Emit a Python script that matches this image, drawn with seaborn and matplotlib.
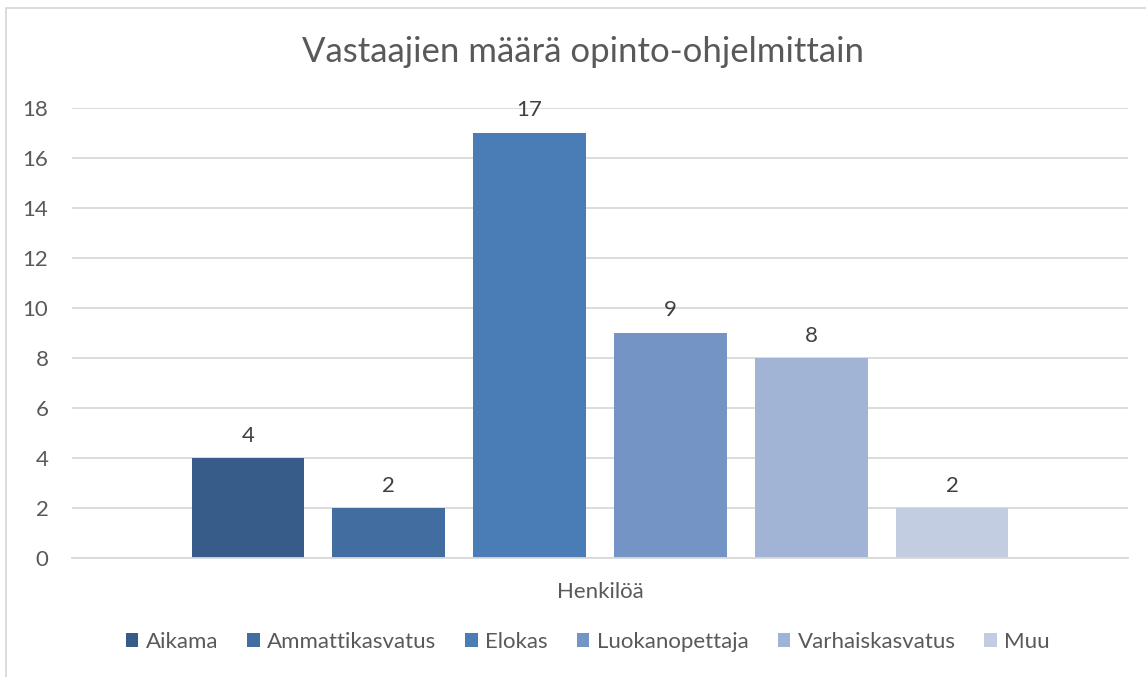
import matplotlib
matplotlib.use("Agg")
import matplotlib.pyplot as plt
import seaborn as sns
import pandas as pd
from matplotlib.patches import Rectangle

categories = ["Aikama", "Ammattikasvatus", "Elokas", "Luokanopettaja", "Varhaiskasvatus", "Muu"]
values = [4, 2, 17, 9, 8, 2]
group = "Henkilöä"
colors = ["#375C8A", "#416DA0", "#4A7CB6", "#7394C5", "#A2B4D5", "#C2CDE2"]
title = "Vastaajien määrä opinto-ohjelmittain"

sns.set_theme(style="white")
plt.rcParams["font.family"] = ["Lato", "DejaVu Sans"]

df = pd.DataFrame({"group": [group] * len(categories), "series": categories, "value": values})

W, H = 1146, 677
fig = plt.figure(figsize=(W / 100, H / 100), dpi=100)
ax = fig.add_axes([72 / W, 1 - 558 / H, (1128 - 72) / W, (558 - 108) / H])

sns.barplot(data=df, x="group", y="value", hue="series", hue_order=categories,
            palette=colors, width=0.8, gap=0.2, ax=ax, legend=True, saturation=1,
            linewidth=0, edgecolor="none")

txt = "#595959"
ax.set_ylim(0, 18)
ax.set_xlim(-0.5, 0.5)
ax.set_yticks(range(0, 19, 2))
ax.yaxis.grid(True, color="#D9D9D9", linewidth=1.3)
ax.set_axisbelow(True)
for s in ["left", "right", "top"]:
    ax.spines[s].set_visible(False)
ax.spines["bottom"].set_color("#D9D9D9")
ax.spines["bottom"].set_linewidth(1.3)
ax.tick_params(axis="y", length=0, pad=17, labelsize=16, labelcolor=txt)
ax.tick_params(axis="x", length=0, pad=17, labelsize=16, labelcolor=txt)
ax.set_xlabel("")
ax.set_ylabel("")

for cont in ax.containers:
    ax.bar_label(cont, padding=9, fontsize=16, color="#404040")

fig.text(583 / W, 1 - 52 / H, title, ha="center", va="center", fontsize=25, color=txt)

handles, labels = ax.get_legend_handles_labels()
ax.legend_.remove()
fig.legend(handles, labels, loc="center", bbox_to_anchor=(588 / W, 1 - 642 / H), ncol=6,
           frameon=False, fontsize=16, handlelength=0.55, handleheight=0.55,
           handletextpad=0.35, columnspacing=1.3, labelcolor=txt)

fig.patches.append(Rectangle((6 / W, -0.05), 1.1, 1 - 8 / H + 0.05, transform=fig.transFigure,
                             fill=False, edgecolor="#D9D9D9", linewidth=1.3))

fig.savefig("out.png", dpi=100, facecolor="white")
